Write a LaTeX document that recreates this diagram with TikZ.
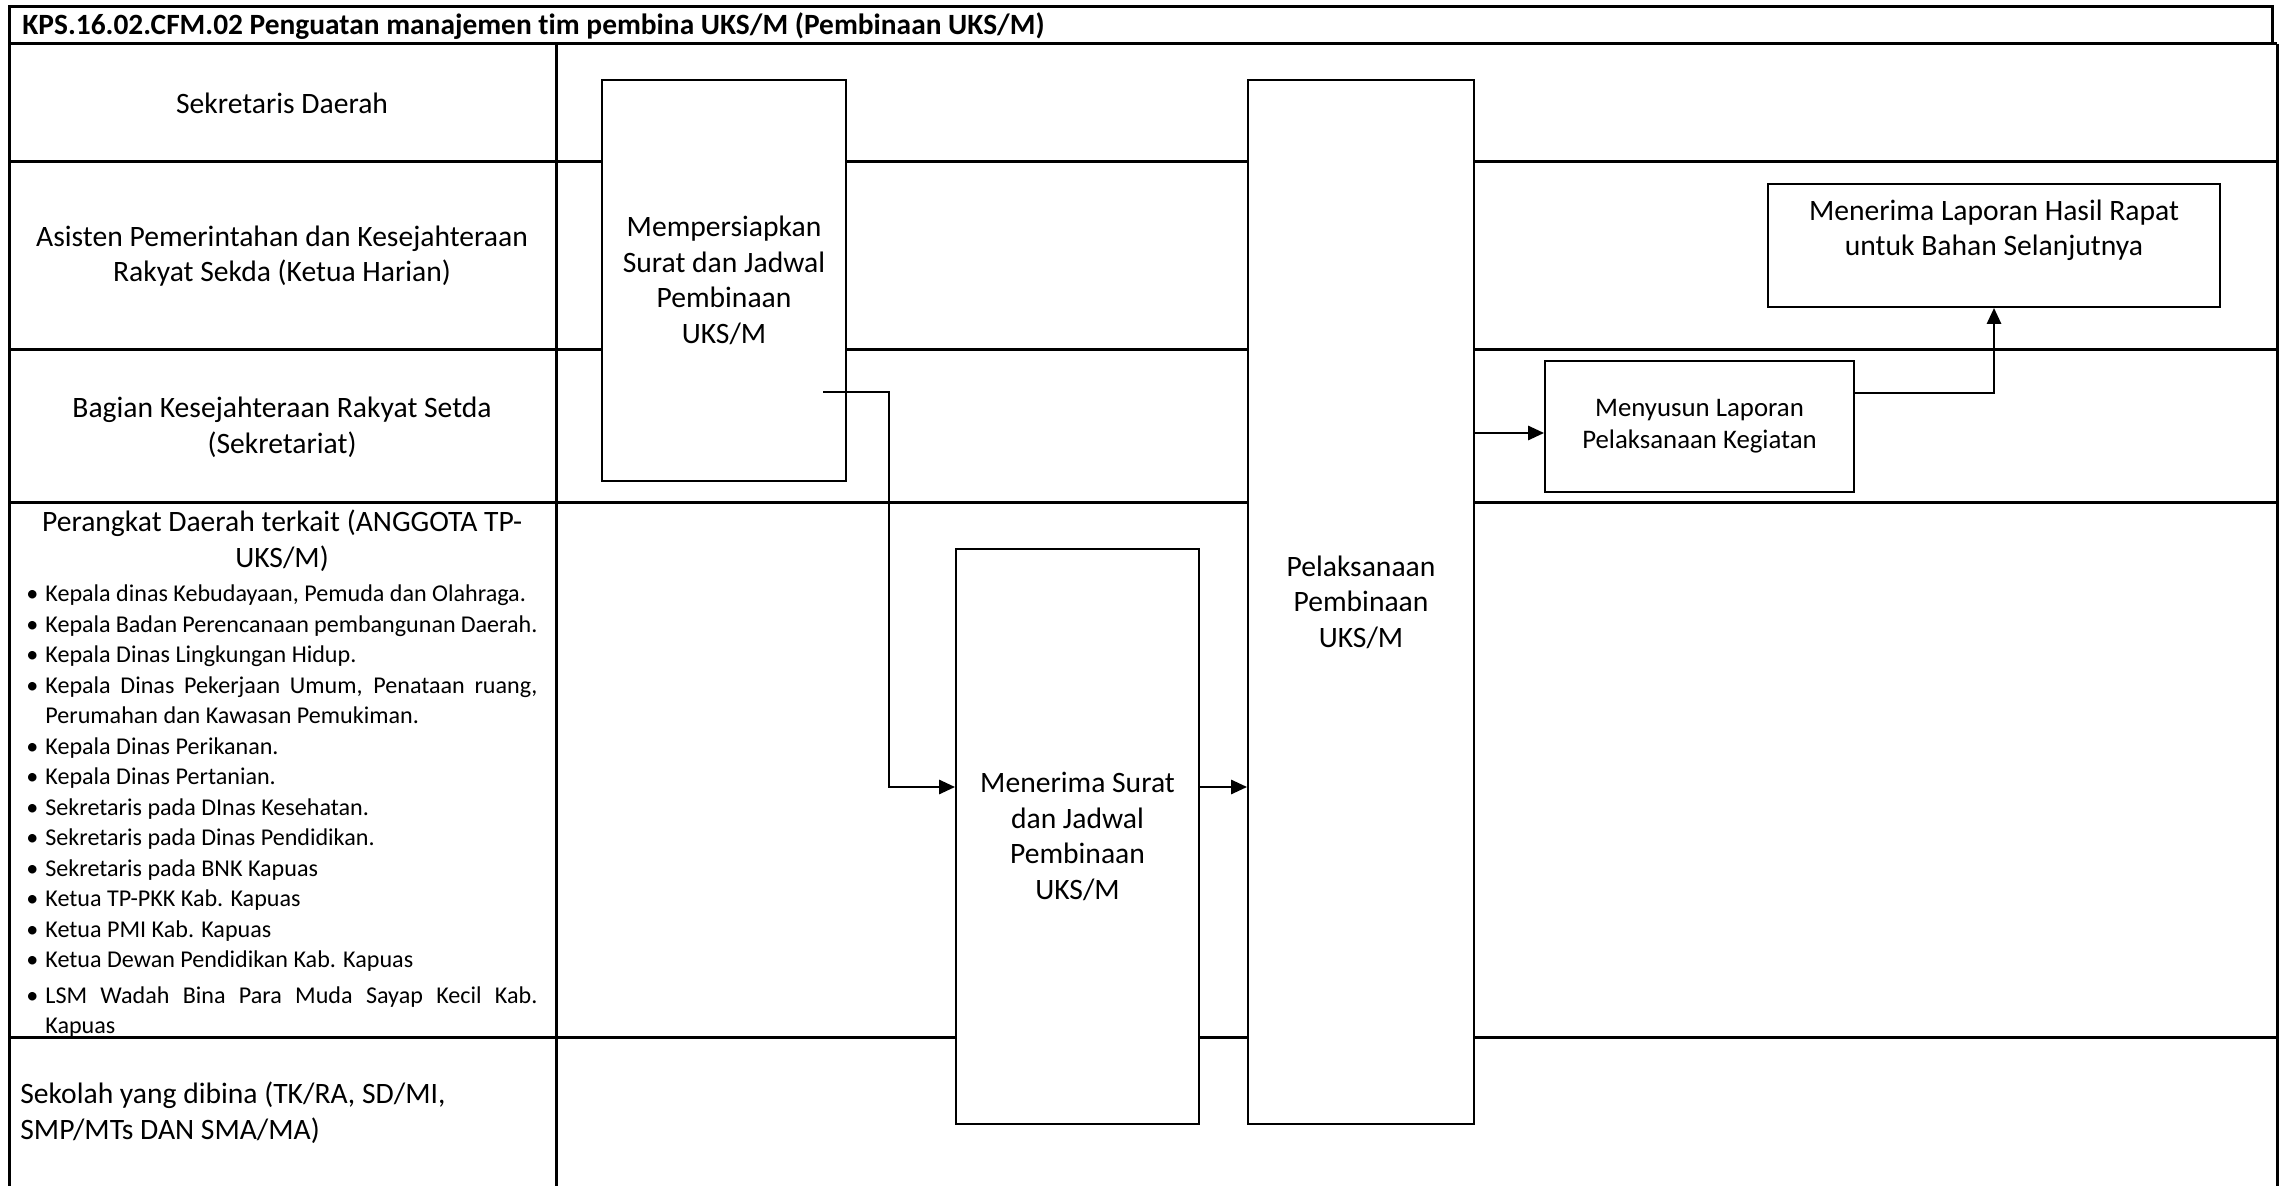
\documentclass[tikz,border=0pt]{standalone}
\usepackage{fontspec}
\setmainfont{Carlito}[Ligatures=CommonOff]
\usetikzlibrary{arrows.meta}
\newcommand\lsitem[1]{\par\noindent\hangindent=12.5pt\hangafter=1\makebox[12.5pt][l]{\hspace{3pt}\textbullet}#1}
\begin{document}
\begin{tikzpicture}[x=0.5pt,y=-0.5pt,
  tbl/.style={line width=1.5pt},
  box/.style={draw, line width=0.9pt, fill=white, align=center, inner sep=2pt, font=\fontsize{14.8}{17.8}\selectfont},
  lane/.style={align=center, inner sep=0pt, font=\fontsize{14.8}{17.8}\selectfont},
  arr/.style={line width=1.4pt, -{Triangle[length=8pt,width=7pt]}}]
\useasboundingbox (0,0) rectangle (2284,1186);
% title row
\draw[tbl] (9,44) -- (9,7) -- (2272,7) -- (2272,44);
\node[anchor=west, inner sep=0pt, font=\bfseries\fontsize{14.7}{17}\selectfont] (title) at (22,26) {KPS.16.02.CFM.02 Penguatan manajemen tim pembina UKS/M (Pembinaan UKS/M)};
% table grid
\draw[tbl] (9,44) -- (2277,44);
\draw[tbl] (9,44) -- (9,1186);
\draw[tbl] (556,44) -- (556,1186);
\draw[tbl] (2277,44) -- (2277,1186);
\foreach \yy in {162,350,503,1037} {\draw[tbl] (9,\yy) -- (2277,\yy);}
% lane labels
\node[lane] (l1) at (282,103) {Sekretaris Daerah};
\node[lane] (l2) at (282,256) {Asisten Pemerintahan dan Kesejahteraan\\Rakyat Sekda (Ketua Harian)};
\node[lane] (l3) at (282,427) {Bagian Kesejahteraan Rakyat Setda\\(Sekretariat)};
\node[lane] (l4) at (282,541) {Perangkat Daerah terkait (ANGGOTA TP-\\UKS/M)};
\node[anchor=north west, inner sep=0pt, text width=258.5pt, align=justify,
  font=\fontsize{12.05}{15.25}\selectfont] (l4list) at (20,571) {\hyphenpenalty=10000\exhyphenpenalty=10000
\lsitem{Kepala dinas Kebudayaan, Pemuda dan Olahraga.}
\lsitem{Kepala Badan Perencanaan pembangunan Daerah.}
\lsitem{Kepala Dinas Lingkungan Hidup.}
\lsitem{Kepala Dinas Pekerjaan Umum, Penataan ruang, Perumahan dan Kawasan Pemukiman.}
\lsitem{Kepala Dinas Perikanan.}
\lsitem{Kepala Dinas Pertanian.}
\lsitem{Sekretaris pada DInas Kesehatan.}
\lsitem{Sekretaris pada Dinas Pendidikan.}
\lsitem{Sekretaris pada BNK Kapuas}
\lsitem{Ketua TP-PKK Kab. Kapuas}
\lsitem{Ketua PMI Kab. Kapuas}
\lsitem{Ketua Dewan Pendidikan Kab. Kapuas}
\par\vspace{2.5pt}
\lsitem{LSM Wadah Bina Para Muda Sayap Kecil Kab. Kapuas}\par};
\node[lane, anchor=west, align=left] (l5) at (20,1113) {Sekolah yang dibina (TK/RA, SD/MI,\\SMP/MTs DAN SMA/MA)};
% process boxes
\node[box, minimum width=122pt, minimum height=200.5pt] (A) at (724,280.5) {Mempersiapkan\\Surat dan Jadwal\\Pembinaan\\UKS/M};
\node[box, minimum width=121.5pt, minimum height=287.5pt] (B) at (1077.5,836.5) {Menerima Surat\\dan Jadwal\\Pembinaan\\UKS/M};
\node[box, minimum width=113pt, minimum height=522pt] (C) at (1361,602) {Pelaksanaan\\Pembinaan\\UKS/M};
\node[box, minimum width=154.5pt, minimum height=65.5pt, font=\fontsize{13.4}{16}\selectfont] (D) at (1699.5,426.5) {Menyusun Laporan\\Pelaksanaan Kegiatan};
\node[box, minimum width=226pt, minimum height=61.5pt] (E) at (1994,245.5) {Menerima Laporan Hasil Rapat\\untuk Bahan Selanjutnya\\\mbox{}};
% connectors
\coordinate (aout) at (823,392);
\coordinate (bin) at (B.west |- 0,787);
\coordinate (cin) at (C.west |- 0,787);
\draw[arr] (aout) -- ++(66,0) |- (bin);
\draw[arr] (B.east |- bin) -- (cin);
\draw[arr] (C.east |- 0,433) -- (D.west |- 0,433);
\draw[arr] (D.east |- 0,393) -| (E.south);
\end{tikzpicture}
\end{document}
